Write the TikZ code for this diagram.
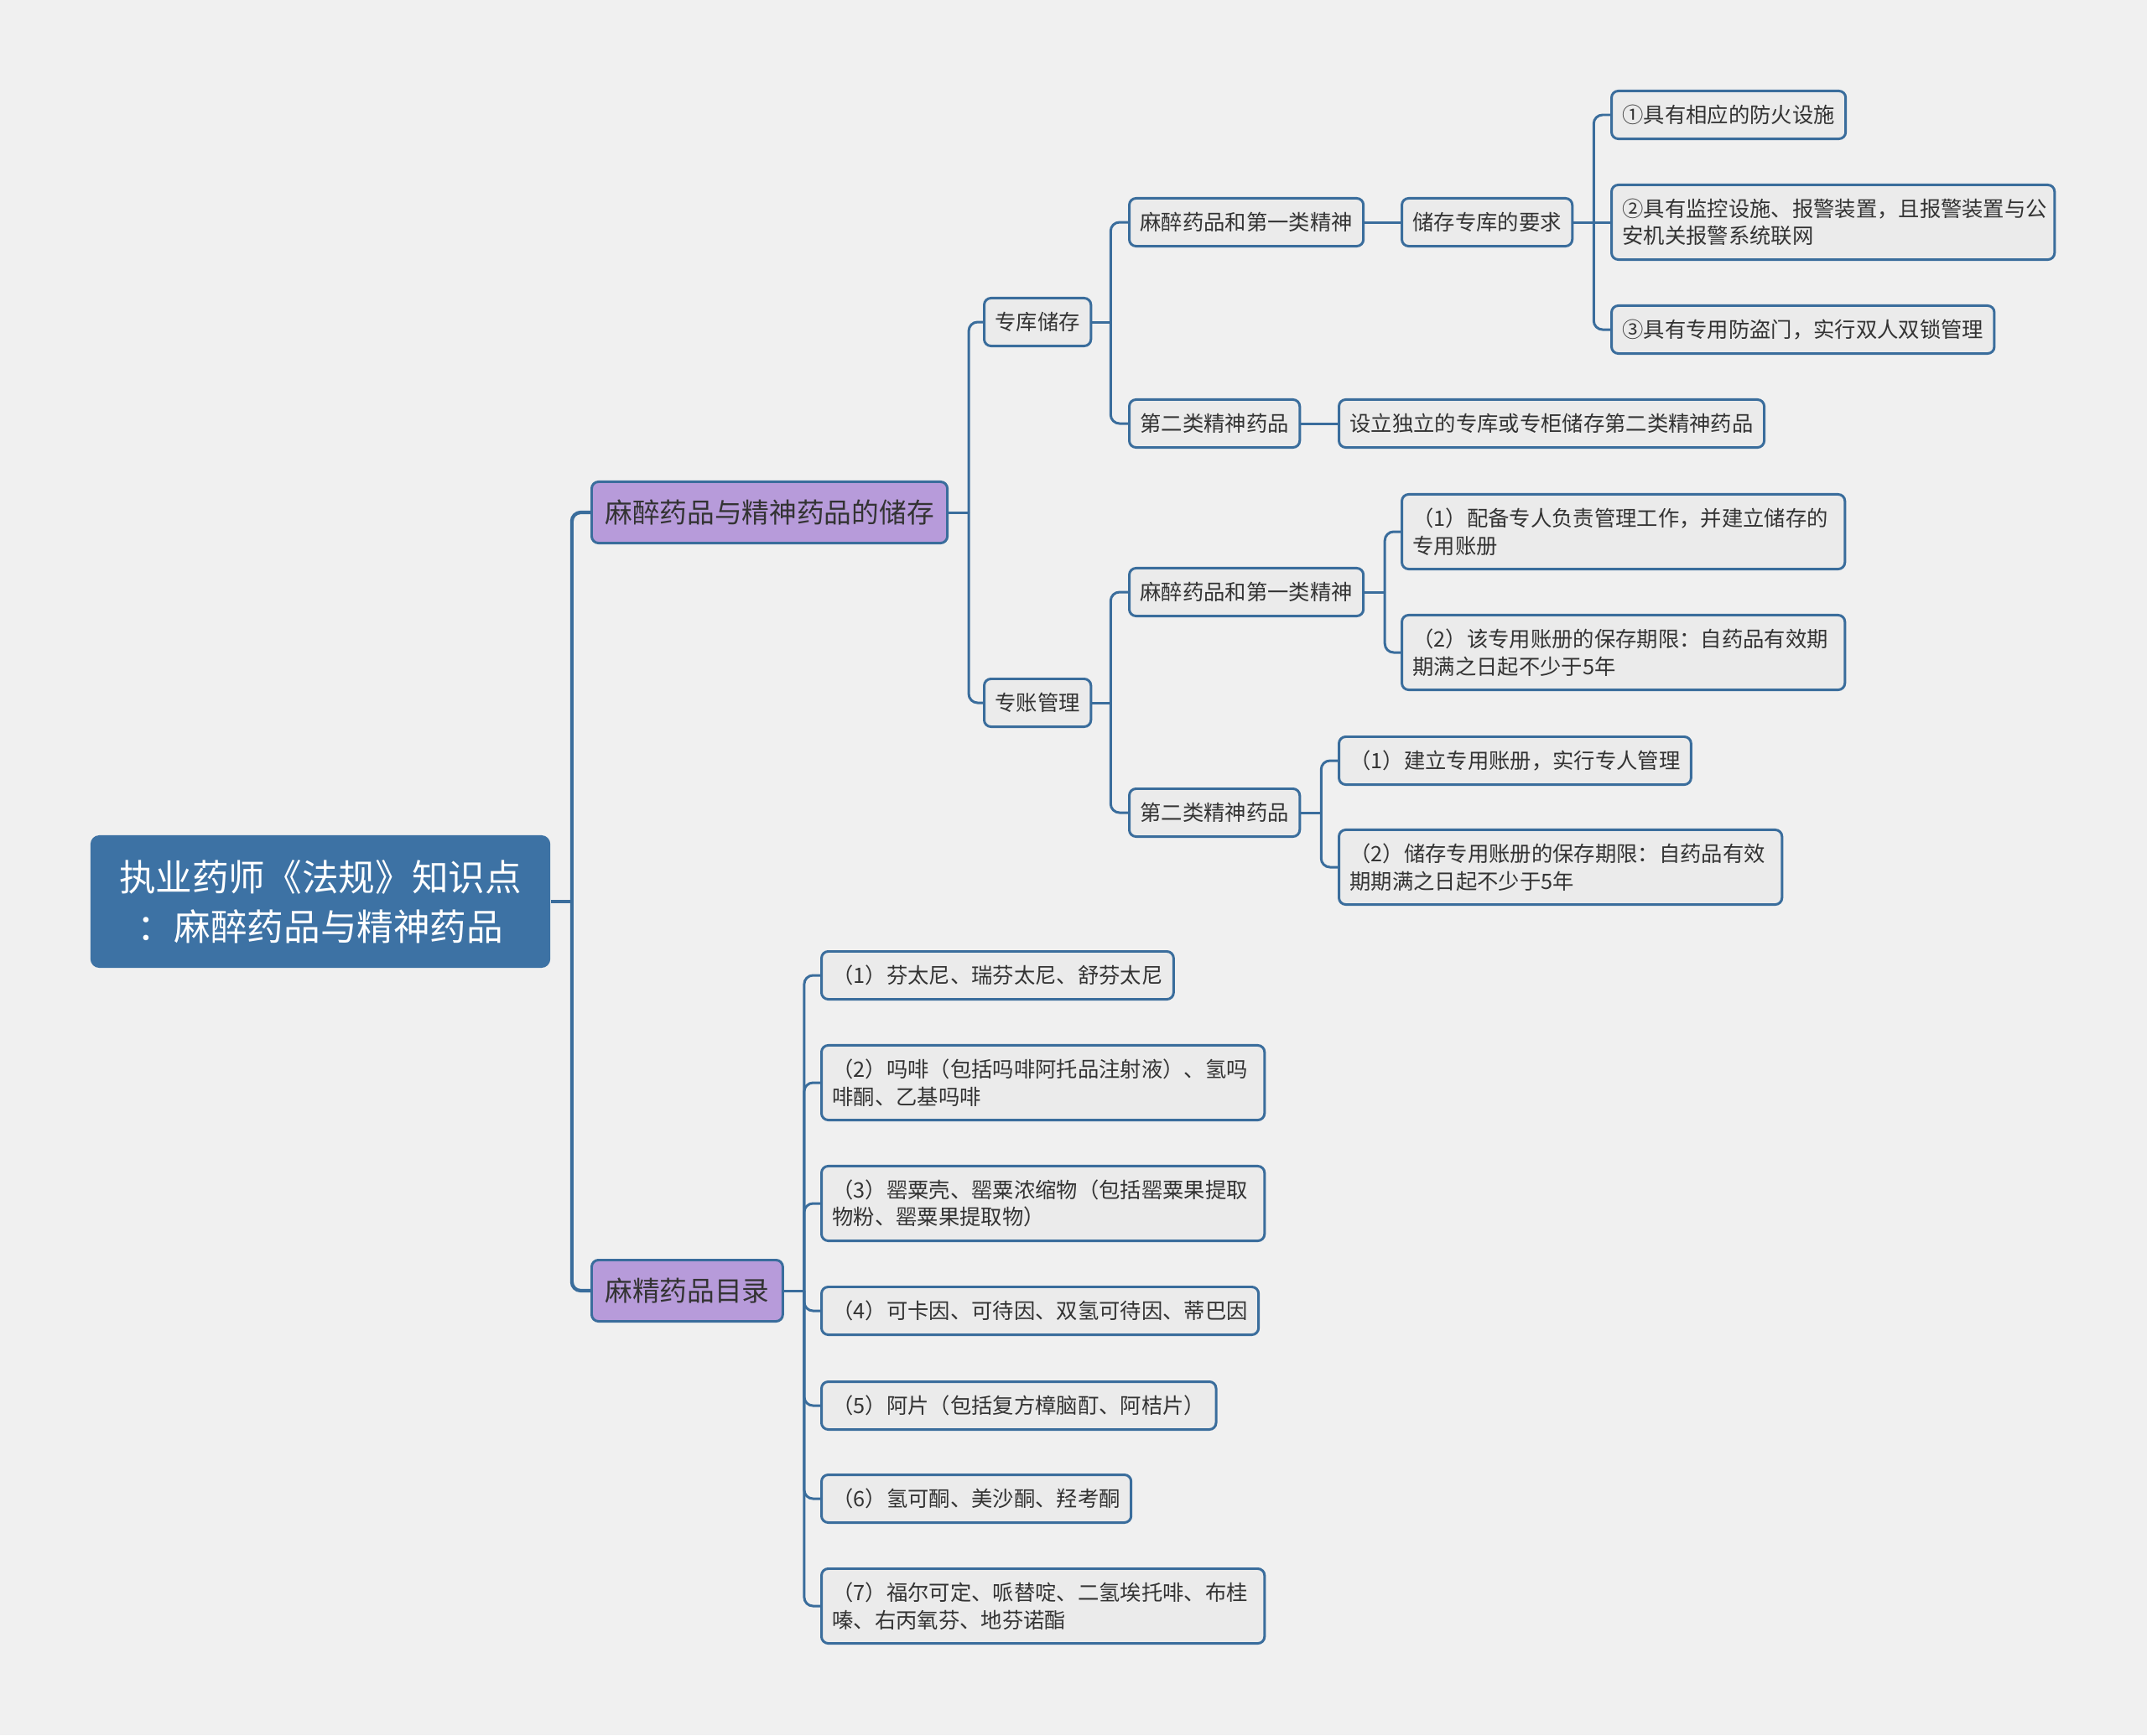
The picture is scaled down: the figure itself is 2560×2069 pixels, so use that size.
\documentclass[tikz,border=0pt]{standalone}
\usepackage{fontspec}
\newfontfamily\cjk{Noto Sans CJK SC}
\definecolor{bggray}{HTML}{F0F0F0}
\definecolor{boxgray}{HTML}{EBEBEB}
\definecolor{linkblue}{HTML}{3A6D9C}
\definecolor{rootblue}{HTML}{3D72A4}
\definecolor{topicpurple}{HTML}{B79BDA}
\definecolor{inkgray}{HTML}{333333}
\begin{document}
\begin{tikzpicture}[x=0.01cm,y=-0.01cm,
  box/.style={draw=linkblue,line width=0.85pt,fill=boxgray,rounded corners=2.3pt,
    text=inkgray,font=\cjk\fontsize{7.2pt}{9.3pt}\selectfont,align=left,
    inner xsep=3.7pt,inner ysep=1pt,minimum height=0.57cm,anchor=west},
  tall/.style={minimum height=0.89cm,text width=5.02cm},
  topic/.style={box,fill=topicpurple,font=\cjk\fontsize{9.3pt}{11pt}\selectfont,
    inner xsep=4.5pt,minimum height=0.73cm},
  rootbox/.style={fill=rootblue,rounded corners=3pt,text=white,align=center,
    font=\cjk\fontsize{12.4pt}{16.7pt}\selectfont,minimum width=5.48cm,minimum height=1.58cm},
  link/.style={draw=linkblue,line width=0.85pt,rounded corners=3pt},
  trunk/.style={link,line width=1.2pt}]
\fill[bggray] (0,0) rectangle (2560,2069);
\useasboundingbox (0,0) rectangle (2560,2069);

\node[rootbox] (root) at (382,1075) {执业药师《法规》知识点\\：麻醉药品与精神药品};

\node[topic] (stor) at (704,611) {麻醉药品与精神药品的储存};
\node[topic] (list) at (704,1539) {麻精药品目录};

\node[box] (ku) at (1172,384) {专库储存};
\node[box] (zhang) at (1172,838) {专账管理};

\node[box] (kuA) at (1345,265) {麻醉药品和第一类精神};
\node[box] (kuB) at (1345,505) {第二类精神药品};
\node[box] (zhA) at (1345,706) {麻醉药品和第一类精神};
\node[box] (zhB) at (1345,969) {第二类精神药品};

\node[box] (req) at (1670,265) {储存专库的要求};
\node[box] (req1) at (1920,137) {①具有相应的防火设施};
\node[box,tall] (req2) at (1920,265) {②具有监控设施、报警装置，且报警装置与公\\安机关报警系统联网};
\node[box] (req3) at (1920,393) {③具有专用防盗门，实行双人双锁管理};
\node[box] (kuB1) at (1595,505) {设立独立的专库或专柜储存第二类精神药品};

\node[box,tall] (zhA1) at (1670,634) {（1）配备专人负责管理工作，并建立储存的\\专用账册};
\node[box,tall] (zhA2) at (1670,778) {（2）该专用账册的保存期限：自药品有效期\\期满之日起不少于5年};
\node[box] (zhB1) at (1595,907) {（1）建立专用账册，实行专人管理};
\node[box,tall] (zhB2) at (1595,1034) {（2）储存专用账册的保存期限：自药品有效\\期期满之日起不少于5年};

\node[box] (m1) at (978,1163) {（1）芬太尼、瑞芬太尼、舒芬太尼};
\node[box,tall] (m2) at (978,1291) {（2）吗啡（包括吗啡阿托品注射液）、氢吗\\啡酮、乙基吗啡};
\node[box,tall] (m3) at (978,1435) {（3）罂粟壳、罂粟浓缩物（包括罂粟果提取\\物粉、罂粟果提取物）};
\node[box] (m4) at (978,1563) {（4）可卡因、可待因、双氢可待因、蒂巴因};
\node[box] (m5) at (978,1676) {（5）阿片（包括复方樟脑酊、阿桔片）};
\node[box] (m6) at (978,1787) {（6）氢可酮、美沙酮、羟考酮};
\node[box,tall] (m7) at (978,1915) {（7）福尔可定、哌替啶、二氢埃托啡、布桂\\嗪、右丙氧芬、地芬诺酯};

% connectors
\draw[trunk] (root.east) -- ++(25,0) coordinate (root-f);
\foreach \c in {stor,list} \draw[trunk] (root-f) |- (\c.west);

\draw[link] (stor.east) -- ++(24,0) coordinate (stor-f);
\foreach \c in {ku,zhang} \draw[link] (stor-f) |- (\c.west);

\draw[link] (ku.east) -- ++(22,0) coordinate (ku-f);
\foreach \c in {kuA,kuB} \draw[link] (ku-f) |- (\c.west);

\draw[link] (zhang.east) -- ++(22,0) coordinate (zhang-f);
\foreach \c in {zhA,zhB} \draw[link] (zhang-f) |- (\c.west);

\draw[link] (kuA.east) -- (req.west);
\draw[link] (kuB.east) -- (kuB1.west);

\draw[link] (req.east) -- (req2.west);
\coordinate (req-f) at ([xshift=0.24cm]req.east);
\foreach \c in {req1,req3} \draw[link] (req-f) |- (\c.west);

\draw[link] (zhA.east) -- ++(24,0) coordinate (zhA-f);
\foreach \c in {zhA1,zhA2} \draw[link] (zhA-f) |- (\c.west);

\draw[link] (zhB.east) -- ++(24,0) coordinate (zhB-f);
\foreach \c in {zhB1,zhB2} \draw[link] (zhB-f) |- (\c.west);

\draw[link] (list.east) -- ++(24,0) coordinate (list-f);
\foreach \c in {m1,m2,m3,m4,m5,m6,m7} \draw[link] (list-f) |- (\c.west);
\end{tikzpicture}
\end{document}
